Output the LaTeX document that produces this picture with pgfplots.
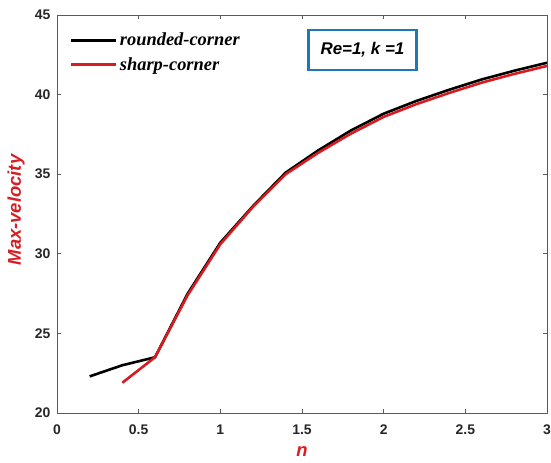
\documentclass[border=0pt]{standalone}
\usepackage{fontspec}
\setmainfont{Liberation Sans}
\newfontfamily\legfont{Liberation Serif}
\usepackage{pgfplots}
\pgfplotsset{compat=1.18}

\definecolor{curvered}{RGB}{214,28,32}
\definecolor{labelred}{RGB}{214,30,36}
\definecolor{boxblue}{RGB}{30,120,180}
\definecolor{axisgray}{RGB}{90,90,90}

\begin{document}
\begin{tikzpicture}
\path[use as bounding box] (-57bp,-50bp) rectangle (494bp,413bp);
\begin{axis}[
  at={(0,0)}, anchor=south west,
  scale only axis, width=490bp, height=398bp,
  xmin=0, xmax=3, ymin=20, ymax=45,
  xtick={0,0.5,1,1.5,2,2.5,3},
  ytick={20,25,30,35,40,45},
  tick align=inside, major tick length=4bp,
  axis line style={axisgray, line width=0.8bp},
  every tick/.style={axisgray, line width=0.6bp},
  /pgf/number format/assume math mode=true,
  ticklabel style={font=\bfseries\fontsize{14}{16}\selectfont, text=black!85},
  xticklabel style={yshift=-8bp},
  yticklabel style={xshift=-3bp},
  xlabel={\bfseries\itshape n},
  ylabel={\bfseries\itshape Max-velocity},
  label style={font=\fontsize{18.5}{20}\selectfont, text=labelred},
  xlabel style={at={(axis description cs:0.5,0)}, anchor=center, yshift=-39bp},
  ylabel style={at={(axis description cs:0,0.51)}, anchor=center, yshift=41bp},
  legend style={at={(axis description cs:0.026,0.96)}, anchor=north west, draw=none, fill=none,
    font=\legfont\bfseries\itshape\fontsize{18.5}{20}\selectfont,
    row sep=6bp, inner sep=0bp},
  legend cell align=left,
  legend image code/.code={\draw[#1, line width=3bp] (0bp,0bp) -- (45bp,0bp);},
]
\addplot[black, line width=2.6bp] coordinates {
  (0.2,22.3) (0.4,23.0) (0.6,23.5) (0.8,27.5) (1.0,30.7) (1.2,33.0)
  (1.4,35.1) (1.6,36.5) (1.8,37.75) (2.0,38.8) (2.2,39.6) (2.4,40.3)
  (2.6,40.95) (2.8,41.5) (3.0,42.0)
};
\addlegendentry{rounded-corner}
\addplot[curvered, line width=2.6bp] coordinates {
  (0.4,21.9) (0.6,23.5) (0.8,27.4) (1.0,30.6) (1.2,32.95)
  (1.4,35.0) (1.6,36.35) (1.8,37.55) (2.0,38.6) (2.2,39.4) (2.4,40.1)
  (2.6,40.75) (2.8,41.3) (3.0,41.8)
};
\addlegendentry{sharp-corner}
\node[draw=boxblue, line width=2.6bp, fill=white, minimum width=108bp, minimum height=40bp,
  font=\bfseries\itshape\fontsize{17}{18}\selectfont]
  at (axis cs:1.87,42.8) {Re=1, k =1};
\end{axis}
\end{tikzpicture}
\end{document}
